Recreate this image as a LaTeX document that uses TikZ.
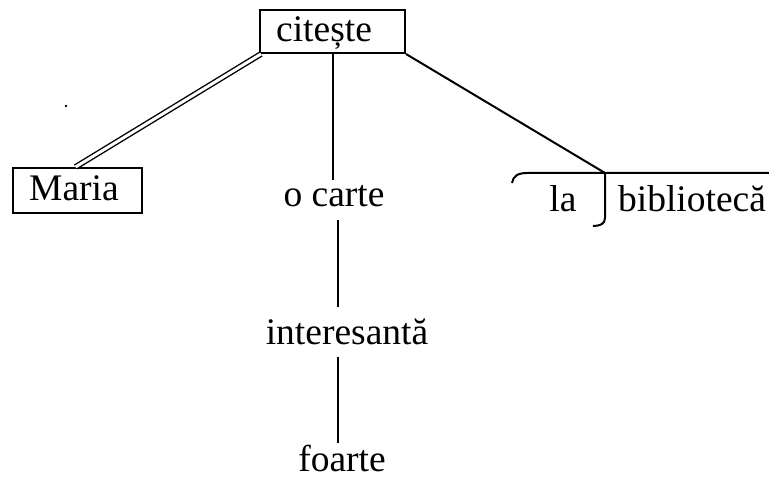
\documentclass[tikz,border=0pt]{standalone}
\usepackage{fontspec}
\setmainfont{Liberation Serif}
\begin{document}
\begin{tikzpicture}[x=1pt,y=1pt,line width=2pt,
  lbl/.style={font=\fontsize{37.5}{40}\selectfont, inner sep=0pt, anchor=base},
  box/.style={draw, inner sep=0pt, line width=2pt},
  dbl/.style={double, double distance=3pt, line width=1.4pt}]
\useasboundingbox (0,0) rectangle (769,479);
% boxes
\node[box, minimum width=145pt, minimum height=43pt] (cbox) at (332.5,447.5) {};
\node[box, minimum width=129pt, minimum height=45pt] (mbox) at (77.5,288.5) {};
% labels
\node[lbl] (citeste) at (324,437) {citește};
\node[lbl] (maria) at (74,278) {Maria};
\node[lbl] (ocarte) at (334,272) {o carte};
\node[lbl] (interesanta) at (347,134) {interesantă};
\node[lbl] (foarte) at (342,7) {foarte};
\node[lbl] (la) at (563,267) {la};
\node[lbl] (biblioteca) at (692,267) {bibliotecă};
% stray dot
\fill (66,373) circle (1.3pt);
% connector end points
\coordinate (v1a) at (cbox.south -| 333,0);
\coordinate (v1b) at (333,299);
\coordinate (v2a) at (338,259);
\coordinate (v2b) at (338,172);
\coordinate (v3a) at (338,122);
\coordinate (v3b) at (338,36);
\coordinate (junc) at (605,306);
% connectors
\draw[dbl] ([xshift=2pt]cbox.south west) -- ([xshift=-2pt]mbox.north);
\draw (v1a) -- (v1b);
\draw (v2a) -- (v2b);
\draw (v3a) -- (v3b);
\draw (cbox.south east) -- (junc);
% bracket for "la bibliotecă"
\draw (512,296) .. controls (513,303) and (518,306) .. (527,306) -- (769,306);
\draw (junc) -- (605,261) .. controls (605,255) and (600,253) .. (593,253);
\end{tikzpicture}
\end{document}
